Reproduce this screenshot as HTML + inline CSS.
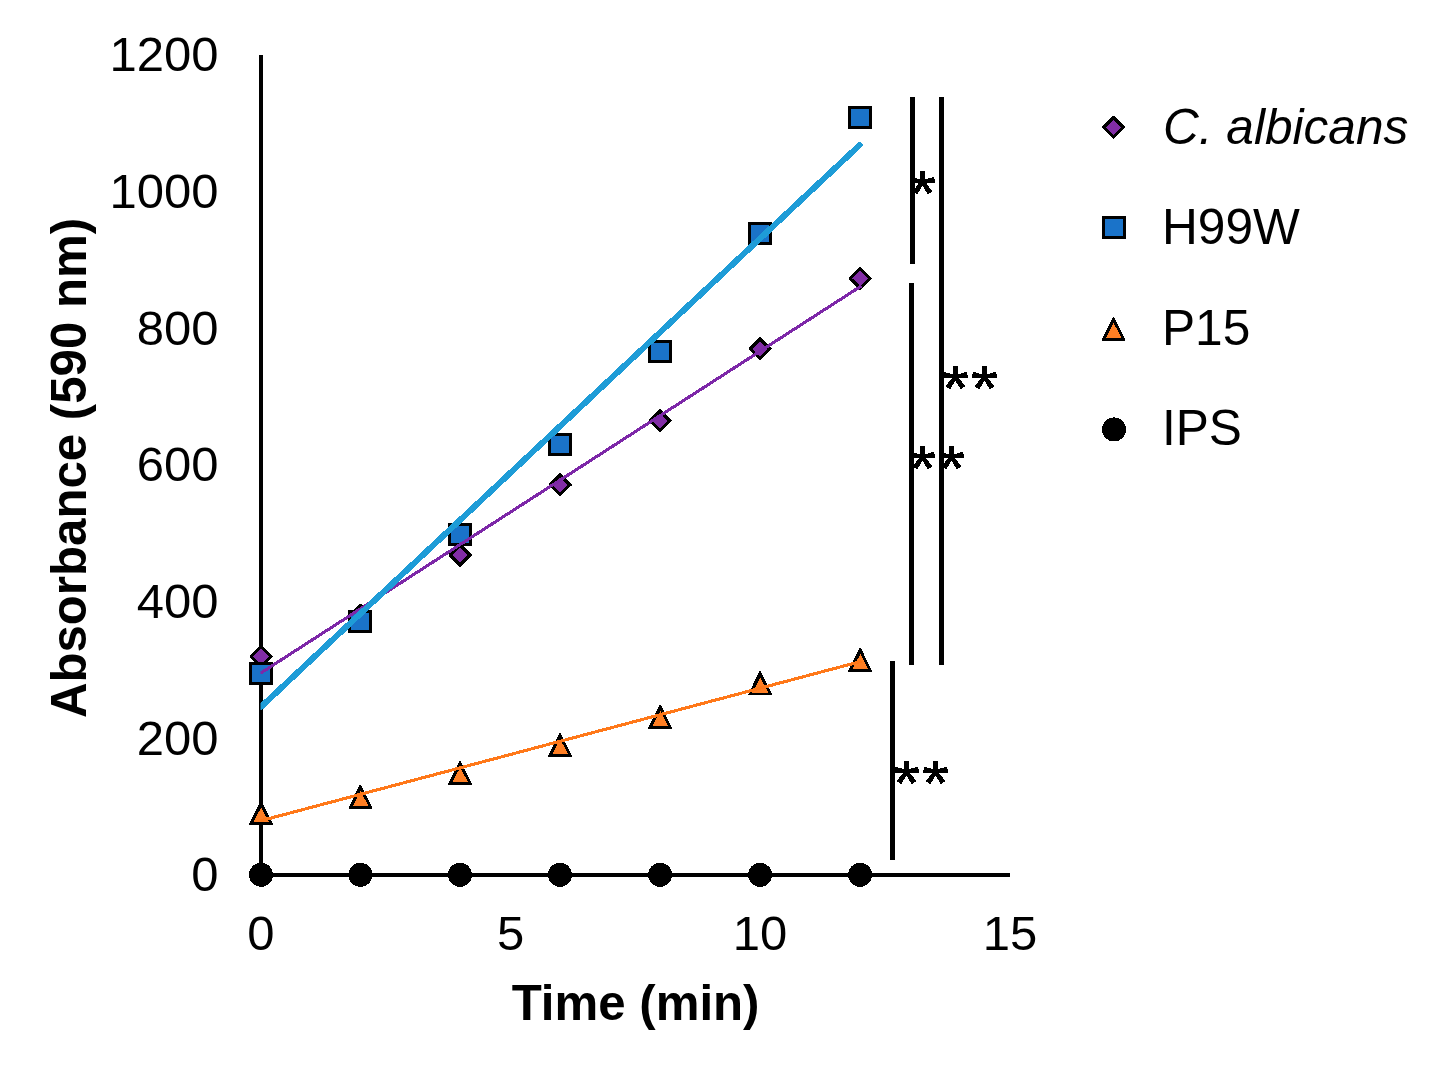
<!DOCTYPE html>
<html><head><meta charset="utf-8"><title>Chart</title>
<style>html,body{margin:0;padding:0;background:#fff;overflow:hidden;}svg{display:block;}text{font-family:"Liberation Sans",sans-serif;fill:#000;}</style>
</head><body>
<svg width="1448" height="1065" viewBox="0 0 1448 1065" shape-rendering="crispEdges">
<rect width="1448" height="1065" fill="#fff"/>
<g id="axes">
<rect x="259" y="55" width="4" height="822" fill="#000"/>
<rect x="259" y="873" width="751" height="4" fill="#000"/>
</g>
<g id="diamonds">
<path d="M260.4,645.0L261.6,645.0L272.5,655.9L272.5,657.1L261.6,668.0L260.4,668.0L249.5,657.1L249.5,655.9Z" fill="#000"/><path d="M261.0,648.9L268.6,656.5L261.0,664.1L253.4,656.5Z" fill="#822DA6"/>
<path d="M359.8,603.5L361.0,603.5L371.9,614.4L371.9,615.6L361.0,626.5L359.8,626.5L348.9,615.6L348.9,614.4Z" fill="#000"/><path d="M360.4,607.4L368.0,615.0L360.4,622.6L352.8,615.0Z" fill="#822DA6"/>
<path d="M459.4,543.5L460.6,543.5L471.5,554.4L471.5,555.6L460.6,566.5L459.4,566.5L448.5,555.6L448.5,554.4Z" fill="#000"/><path d="M460.0,547.4L467.6,555.0L460.0,562.6L452.4,555.0Z" fill="#822DA6"/>
<path d="M559.4,473.4L560.6,473.4L571.5,484.3L571.5,485.5L560.6,496.4L559.4,496.4L548.5,485.5L548.5,484.3Z" fill="#000"/><path d="M560.0,477.3L567.6,484.9L560.0,492.5L552.4,484.9Z" fill="#822DA6"/>
<path d="M659.5,409.3L660.7,409.3L671.6,420.2L671.6,421.4L660.7,432.3L659.5,432.3L648.6,421.4L648.6,420.2Z" fill="#000"/><path d="M660.1,413.2L667.7,420.8L660.1,428.4L652.5,420.8Z" fill="#822DA6"/>
<path d="M759.5,337.3L760.7,337.3L771.6,348.2L771.6,349.4L760.7,360.3L759.5,360.3L748.6,349.4L748.6,348.2Z" fill="#000"/><path d="M760.1,341.2L767.7,348.8L760.1,356.4L752.5,348.8Z" fill="#822DA6"/>
<path d="M859.5,267.0L860.7,267.0L871.6,277.9L871.6,279.1L860.7,290.0L859.5,290.0L848.6,279.1L848.6,277.9Z" fill="#000"/><path d="M860.1,270.9L867.7,278.5L860.1,286.1L852.5,278.5Z" fill="#822DA6"/>
</g><g id="squares">
<rect x="250.5" y="663.5" width="21" height="20" fill="#1A73C9" stroke="#000" stroke-width="3"/>
<rect x="349.9" y="611.9" width="21" height="20" fill="#1A73C9" stroke="#000" stroke-width="3"/>
<rect x="449.5" y="524.0" width="21" height="20" fill="#1A73C9" stroke="#000" stroke-width="3"/>
<rect x="549.5" y="434.0" width="21" height="20" fill="#1A73C9" stroke="#000" stroke-width="3"/>
<rect x="649.6" y="341.9" width="21" height="20" fill="#1A73C9" stroke="#000" stroke-width="3"/>
<rect x="749.6" y="223.0" width="21" height="20" fill="#1A73C9" stroke="#000" stroke-width="3"/>
<rect x="849.6" y="107.5" width="21" height="20" fill="#1A73C9" stroke="#000" stroke-width="3"/>
</g><g id="tris">
<path d="M260.3,801.1L261.7,801.1L272.7,823.7L272.7,825.1L249.3,825.1L249.3,823.7Z" fill="#000"/><path d="M261.2,807.3L269.0,822.2L253.4,822.2Z" fill="#FF7F24"/>
<path d="M359.7,784.9L361.1,784.9L372.1,807.5L372.1,808.9L348.7,808.9L348.7,807.5Z" fill="#000"/><path d="M360.6,791.1L368.4,806.0L352.8,806.0Z" fill="#FF7F24"/>
<path d="M459.3,761.1L460.7,761.1L471.7,783.7L471.7,785.1L448.3,785.1L448.3,783.7Z" fill="#000"/><path d="M460.2,767.3L468.0,782.2L452.4,782.2Z" fill="#FF7F24"/>
<path d="M559.3,732.9L560.7,732.9L571.7,755.5L571.7,756.9L548.3,756.9L548.3,755.5Z" fill="#000"/><path d="M560.2,739.1L568.0,754.0L552.4,754.0Z" fill="#FF7F24"/>
<path d="M659.4,704.9L660.8,704.9L671.8,727.5L671.8,728.9L648.4,728.9L648.4,727.5Z" fill="#000"/><path d="M660.3,711.1L668.1,726.0L652.5,726.0Z" fill="#FF7F24"/>
<path d="M759.4,671.4L760.8,671.4L771.8,694.0L771.8,695.4L748.4,695.4L748.4,694.0Z" fill="#000"/><path d="M760.3,677.6L768.1,692.5L752.5,692.5Z" fill="#FF7F24"/>
<path d="M859.4,647.9L860.8,647.9L871.8,670.5L871.8,671.9L848.4,671.9L848.4,670.5Z" fill="#000"/><path d="M860.3,654.1L868.1,669.0L852.5,669.0Z" fill="#FF7F24"/>
</g><g id="circles">
<circle cx="261.0" cy="874.8" r="12" fill="#000"/>
<circle cx="360.4" cy="874.8" r="12" fill="#000"/>
<circle cx="460.0" cy="874.8" r="12" fill="#000"/>
<circle cx="560.0" cy="874.8" r="12" fill="#000"/>
<circle cx="660.1" cy="874.8" r="12" fill="#000"/>
<circle cx="760.1" cy="874.8" r="12" fill="#000"/>
<circle cx="860.1" cy="874.8" r="12" fill="#000"/>
</g>
<defs><clipPath id="plotclip"><rect x="260.5" y="0" width="700" height="1065"/></clipPath></defs>
<g id="trend" fill="none" stroke-linecap="round" clip-path="url(#plotclip)">
<line x1="261" y1="820.7" x2="860.3" y2="661.6" stroke="#FF7819" stroke-width="3.1"/>
<line x1="261" y1="672.9" x2="860.3" y2="286.6" stroke="#7D28A8" stroke-width="3.1"/>
<line x1="261" y1="706.9" x2="859.6" y2="145.1" stroke="#1E9CD7" stroke-width="6"/>
</g>
<g id="stars" fill="#000" stroke="none">
<path d="M925.00,183.50L925.00,171.00L920.00,171.00L920.00,183.50ZM921.34,184.03L935.13,182.82L934.09,176.91L920.71,180.49ZM924.29,180.49L910.91,176.91L909.87,182.82L923.66,184.03ZM920.08,181.86L927.83,194.50L932.42,191.29L923.20,179.68ZM921.80,179.68L912.58,191.29L917.17,194.50L924.92,181.86Z"/>
<path d="M957.90,378.40L957.90,365.90L952.90,365.90L952.90,378.40ZM954.24,378.93L968.03,377.72L966.99,371.81L953.61,375.39ZM957.19,375.39L943.81,371.81L942.77,377.72L956.56,378.93ZM952.98,376.76L960.73,389.40L965.32,386.19L956.10,374.58ZM954.70,374.58L945.48,386.19L950.07,389.40L957.82,376.76Z"/>
<path d="M987.00,378.40L987.00,365.90L982.00,365.90L982.00,378.40ZM983.34,378.93L997.13,377.72L996.09,371.81L982.71,375.39ZM986.29,375.39L972.91,371.81L971.87,377.72L985.66,378.93ZM982.08,376.76L989.83,389.40L994.42,386.19L985.20,374.58ZM983.80,374.58L974.58,386.19L979.17,389.40L986.92,376.76Z"/>
<path d="M925.00,458.40L925.00,445.90L920.00,445.90L920.00,458.40ZM921.34,458.93L935.13,457.72L934.09,451.81L920.71,455.39ZM924.29,455.39L910.91,451.81L909.87,457.72L923.66,458.93ZM920.08,456.76L927.83,469.40L932.42,466.19L923.20,454.58ZM921.80,454.58L912.58,466.19L917.17,469.40L924.92,456.76Z"/>
<path d="M954.00,458.40L954.00,445.90L949.00,445.90L949.00,458.40ZM950.34,458.93L964.13,457.72L963.09,451.81L949.71,455.39ZM953.29,455.39L939.91,451.81L938.87,457.72L952.66,458.93ZM949.08,456.76L956.83,469.40L961.42,466.19L952.20,454.58ZM950.80,454.58L941.58,466.19L946.17,469.40L953.92,456.76Z"/>
<path d="M909.00,773.30L909.00,760.80L904.00,760.80L904.00,773.30ZM905.34,773.83L919.13,772.62L918.09,766.71L904.71,770.29ZM908.29,770.29L894.91,766.71L893.87,772.62L907.66,773.83ZM904.08,771.66L911.83,784.30L916.42,781.09L907.20,769.48ZM905.80,769.48L896.58,781.09L901.17,784.30L908.92,771.66Z"/>
<path d="M938.10,773.30L938.10,760.80L933.10,760.80L933.10,773.30ZM934.44,773.83L948.23,772.62L947.19,766.71L933.81,770.29ZM937.39,770.29L924.01,766.71L922.97,772.62L936.76,773.83ZM933.18,771.66L940.93,784.30L945.52,781.09L936.30,769.48ZM934.90,769.48L925.68,781.09L930.27,784.30L938.02,771.66Z"/>
</g>
<g id="bars" fill="#000">
<rect x="910" y="97" width="5" height="167"/>
<rect x="909" y="283" width="5" height="382"/>
<rect x="939" y="97" width="5" height="568"/>
<rect x="890" y="661" width="5" height="199"/>
</g>
<g id="ylabels" font-size="49" text-anchor="end">
<text x="218.4" y="891.3">0</text>
<text x="218.4" y="754.6">200</text>
<text x="218.4" y="618.0">400</text>
<text x="218.4" y="481.3">600</text>
<text x="218.4" y="344.6">800</text>
<text x="218.4" y="208.0">1000</text>
<text x="218.4" y="71.3">1200</text>
</g>
<g id="xlabels" font-size="49" text-anchor="middle">
<text x="261.0" y="949.8">0</text>
<text x="510.6" y="949.8">5</text>
<text x="760.1" y="949.8">10</text>
<text x="1010.0" y="949.8">15</text>
</g>
<text id="xtitle" x="635.6" y="1019.7" font-size="49.2" font-weight="bold" text-anchor="middle">Time (min)</text>
<text id="ytitle" transform="translate(85.8,468) rotate(-90)" font-size="49.2" font-weight="bold" text-anchor="middle">Absorbance (590 nm)</text>
<g id="legend" font-size="49.6">
<path d="M1112.9,115.9L1114.1,115.9L1125.0,126.8L1125.0,128.0L1114.1,138.9L1112.9,138.9L1102.0,128.0L1102.0,126.8Z" fill="#000"/><path d="M1113.5,119.8L1121.1,127.4L1113.5,135.0L1105.9,127.4Z" fill="#822DA6"/>
<rect x="1103.5" y="217.9" width="21" height="20" fill="#1A73C9" stroke="#000" stroke-width="3"/>
<path d="M1112.8,316.9L1114.2,316.9L1125.2,339.5L1125.2,340.9L1101.8,340.9L1101.8,339.5Z" fill="#000"/><path d="M1113.7,323.1L1121.5,338.0L1105.9,338.0Z" fill="#FF7F24"/>
<circle cx="1114.0" cy="429.4" r="12" fill="#000"/>
<text x="1163" y="143.6" font-style="italic">C. albicans</text>
<text x="1162" y="244.1">H99W</text>
<text x="1162" y="345">P15</text>
<text x="1162" y="444.8">IPS</text>
</g>
</svg></body></html>
